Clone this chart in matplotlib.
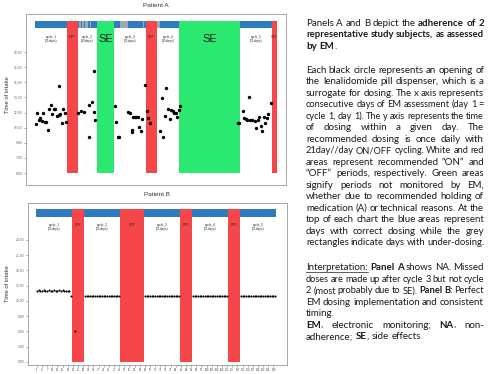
import matplotlib
matplotlib.use("Agg")
import matplotlib.pyplot as plt
from matplotlib.patches import Rectangle
from matplotlib.lines import Line2D

# ---------------- data ----------------
# Patient A: day of assessment and time of opening (hours)
a_days = [1, 2, 3, 4, 5, 6, 7, 8, 9, 10, 11, 12, 13, 14, 15, 16, 16, 17, 18, 19, 20, 21,
          29, 31, 33, 36, 36, 38, 39, 39, 40,
          53, 54, 55, 56, 62, 63, 64, 64, 65, 66, 67, 68, 69, 70, 71, 73, 74, 75, 76,
          83, 84, 85, 86, 87, 88, 89, 90, 91, 92, 93, 94, 95, 96,
          134, 135, 137, 138, 139, 140, 141, 142, 143, 145, 146, 147, 148, 149, 150, 151,
          152, 153, 154, 156]
a_times = [10.89, 11.98, 11.26, 11.43, 11.19, 11.98, 11.03, 11.09, 10.27, 12.32, 12.77,
           11.82, 12.32, 12.32, 11.65, 14.60, 11.75, 11.85, 10.93, 12.35, 11.92, 11.06,
           11.92, 12.18, 12.02, 9.57, 12.77, 13.04, 12.08, 16.12, 11.23,
           12.65, 11.09, 9.54, 9.54, 12.02, 11.92, 10.04, 10.27, 11.59, 11.52, 11.59, 11.59,
           10.59, 10.20, 11.33, 14.73, 12.18, 11.43, 10.93,
           10.14, 13.44, 9.60, 11.68, 14.40, 12.32, 11.33, 12.25, 12.15, 11.92, 11.92, 11.59,
           12.25, 12.65,
           10.93, 10.93, 12.15, 11.43, 11.36, 11.26, 13.54, 11.26, 11.26, 11.16, 10.43, 11.26,
           11.52, 10.66, 10.14, 11.52, 10.93, 11.43, 11.82, 12.97]
a_cycles = [(1, 21, "cycle_1\n(21days)"), (29, 41, "cycle_2\n(13days)"),
            (53, 73, "cycle_3\n(21days)"), (81, 95, "cycle_4\n(15days)"),
            (136, 156, "cycle_5\n(21days)")]
a_off = [(22, 28), (74, 80), (157, 159)]
a_se = [(42, 52), (96, 135)]
a_grey = [30, 32, 34, 35, 37, 57, 58, 59, 60, 61, 72, 81, 82]
a_yticks = [6, 7.5, 9, 10.5, 12, 13.5, 15, 16.5, 18]
a_ylabels = ["6:00", "7:30", "9:00", "10:30", "12:00", "13:30", "15:00", "16:30", "18:00"]

# Patient B
b_days = [1, 2, 3, 4, 5, 6, 7, 8, 9, 10, 11, 12, 13, 14, 15, 16, 17, 18, 19, 20, 21, 23,
          29, 30, 31, 32, 33, 34, 35, 36, 37, 38, 39, 40, 41, 42, 43, 44, 45, 46, 47, 48, 49,
          64, 65, 66, 67, 68, 69, 70, 71, 72, 73, 74, 75, 76, 77, 78, 79, 80, 81, 82, 83, 84,
          92, 93, 94, 95, 96, 97, 98, 99, 100, 101, 102, 103, 104, 105, 106, 107, 108, 109,
          110, 111, 112,
          120, 121, 122, 123, 124, 125, 126, 127, 128, 129, 130, 131, 132, 133, 134, 135,
          136, 137, 138, 139, 140]
b_times = [14.0, 14.1, 13.9, 14.0, 14.2, 14.0, 13.9, 14.1, 14.0, 14.0, 14.1, 13.9, 14.0,
           14.2, 14.0, 14.1, 14.0, 13.9, 14.0, 13.9, 13.0, 6.1,
           13.0, 13.0, 13.05, 13.0, 12.95, 13.0, 13.0, 13.05, 13.0, 13.0, 12.95, 13.0, 13.0,
           13.05, 13.0, 13.0, 13.0, 12.95, 13.0, 13.0, 13.0,
           13.0, 13.05, 13.0, 13.0, 13.0, 12.95, 13.0, 13.0, 13.05, 13.0, 13.0, 13.0, 12.95,
           13.0, 13.0, 13.0, 13.05, 13.0, 13.0, 13.0, 13.0,
           13.0, 13.0, 13.0, 13.05, 13.0, 13.0, 12.95, 13.0, 13.0, 13.0, 13.0, 13.05, 13.0,
           13.0, 13.0, 12.95, 13.0, 13.0, 13.0, 13.0, 13.0,
           13.0, 13.0, 13.0, 13.0, 13.05, 13.0, 13.0, 13.0, 12.95, 13.0, 13.0, 13.0, 13.0,
           13.05, 13.0, 13.0, 13.0, 13.0, 12.95, 13.0, 13.0]
b_cycles = [(1, 21, "cycle_1\n(21days)"), (29, 49, "cycle_2\n(21days)"),
            (64, 84, "cycle_3\n(21days)"), (92, 112, "cycle_4\n(21days)"),
            (120, 140, "cycle_5\n(21days)")]
b_off = [(22, 28), (50, 63), (85, 91), (113, 119)]
b_yticks = [0, 3, 6, 9, 12, 15, 18, 21, 24]
b_ylabels = ["0:00", "3:00", "6:00", "9:00", "12:00", "15:00", "18:00", "21:00", "24:00"]
b_xticks = [1, 4, 7, 10, 13, 16, 19, 22, 25, 28, 31, 34, 37, 40, 43, 46, 49, 52, 55, 58,
            61, 64, 67, 70, 73, 76, 79, 82, 85, 88, 91, 94, 97, 100, 103, 106, 109, 112,
            115, 118, 121, 124, 127, 130, 133, 136, 139]

BLUE = "#2f7bbf"
GREY = "#9fa9b4"
RED = "#f5474a"
GREEN = "#2ae870"
CFONT = "Liberation Sans"

W, H = 499, 374
fig = plt.figure(figsize=(W / 100, H / 100), dpi=100)


def setup(ax, xlim, ylim, yticks, ylabels, title):
    ax.set_xlim(*xlim)
    ax.set_ylim(*ylim)
    ax.set_yticks(yticks)
    ax.set_yticklabels(ylabels, fontsize=2.4, family=CFONT, color="#444")
    ax.tick_params(length=1.6, width=0.4, colors="#666", pad=1.2)
    for s in ax.spines.values():
        s.set_color("#999999")
        s.set_linewidth(0.6)
    ax.set_title(title, fontsize=4.6, family=CFONT, color="#333", pad=5)


def panel(ax, total, bar_lo, bar_hi, bottom, cycles, off, se, grey, lab_y, off_y):
    ax.add_patch(Rectangle((0, bar_lo), total, bar_hi - bar_lo, color=BLUE, lw=0, zorder=1))
    for d in grey:
        ax.add_patch(Rectangle((d - 1, bar_lo), 1, bar_hi - bar_lo, color=GREY, lw=0, zorder=1.1))
    for s, e in off:
        ax.add_patch(Rectangle((s - 1, bottom), e - s + 1, bar_hi - bottom, color=RED, lw=0, zorder=2))
        ax.text((s - 1 + e) / 2, off_y, "OFF", fontsize=2.4, family=CFONT, ha="center",
                va="center", color="#222", zorder=4)
    for s, e in se:
        ax.add_patch(Rectangle((s - 1, bottom), e - s + 1, bar_hi - bottom, color=GREEN, lw=0, zorder=2))
        ax.text((s - 1 + e) / 2, lab_y, "SE", fontsize=8, family=CFONT, ha="center",
                va="center", color="#222", zorder=4)
    for s, e, lab in cycles:
        ax.text((s - 1 + e) / 2, lab_y, lab, fontsize=2.3, family=CFONT, ha="center",
                va="center", color="#333", linespacing=1.1, zorder=4)


# ---- Patient A ----
axA = fig.add_axes([26 / W, 1 - 185 / H, 260 / W, 171 / H])
setup(axA, (-5.9, 165.1), (4.81, 21.77), a_yticks, a_ylabels, "Patient A")
axA.set_xticks([])
panel(axA, 159, 20.38, 21.07, 6.0, a_cycles, a_off, a_se, a_grey, 19.3, 19.5)
axA.scatter([d - 0.5 for d in a_days], a_times, s=6, color="black", lw=0, zorder=3)

# ---- Patient B ----
axB = fig.add_axes([28 / W, 1 - 365 / H, 259 / W, 162 / H])
setup(axB, (-4.7, 146.4), (-0.6, 31.28), b_yticks, b_ylabels, "Patient B")
axB.set_xticks([d - 0.5 for d in b_xticks])
axB.set_xticklabels([str(d) for d in b_xticks], fontsize=1.9, family=CFONT, color="#444")
axB.tick_params(axis="x", length=1.2, pad=0.8)
panel(axB, 140, 28.52, 30.1, 0.0, b_cycles, b_off, [], [], 26.6, 26.9)
axB.scatter([d - 0.5 for d in b_days], b_times, s=2.2, color="black", lw=0, zorder=3)

for yc in (95, 284):
    fig.text(8 / W, 1 - yc / H, "Time of intake", rotation=90, fontsize=4.2, family=CFONT,
             ha="center", va="center", color="#333")

# ---- justified text on the right ----
par1 = ["Panels A and B depict the *adherence *of *2",
        "*representative *study *subjects, *as *assessed",
        "*by *EM|."]
par2 = ["Each black circle represents an opening of",
        "the lenalidomide pill dispenser, which is a",
        "surrogate for dosing. The x axis represents",
        "consecutive days of EM assessment (day 1 =",
        "cycle 1, day 1). The y axis represents the time",
        "of dosing within a given day. The",
        "recommended dosing is once daily with",
        "21day//day ON/OFF cycling. White and red",
        "areas represent recommended \u201cON\u201d and",
        "\u201cOFF\u201d periods, respectively. Green areas",
        "signify periods not monitored by EM,",
        "whether due to recommended holding of",
        "medication (A) or technical reasons. At the",
        "top of each chart the blue areas represent",
        "days with correct dosing while the grey",
        "rectangles indicate days with under-dosing."]
par3 = ["_Interpretation: *Panel *A shows NA. Missed",
        "doses are made up after cycle 3 but not cycle",
        "2 (most probably due to SE). *Panel *B: Perfect",
        "EM dosing implementation and consistent",
        "timing.",
        "*EM|, electronic monitoring; *NA|, non-",
        "adherence; *SE|, side effects"]
ragged = ["*by *EM|.", "timing.", "adherence; *SE|, side effects"]

FAM = "Lato"
FS = 7.0
X0, X1 = 306, 484
fig.canvas.draw()
rend = fig.canvas.get_renderer()


def measure(s, weight, fs):
    t = fig.text(0, 0, s, fontsize=fs, fontweight=weight, family=FAM)
    w = t.get_window_extent(rend).width
    t.remove()
    return w


def parse(line):
    words = []
    for w in line.split(" "):
        segs = []
        for s in w.split("|"):
            if s.startswith("*"):
                segs.append((s[1:], "bold", False))
            elif s.startswith("_"):
                segs.append((s[1:], "normal", True))
            else:
                segs.append((s, "normal", False))
        words.append(segs)
    return words


def draw_par(lines, y_first):
    for i, line in enumerate(lines):
        y = y_first + 11.5 * i + 2.9
        words = parse(line)
        fs = FS
        # squeeze a line that would not fit at the common size
        while True:
            widths = [[measure(s, wt, fs) for s, wt, u in w] for w in words]
            total = sum(sum(ws) for ws in widths)
            if total + 1.8 * (len(words) - 1) <= X1 - X0 or fs < 5.5:
                break
            fs -= 0.1
        justify = line not in ragged and len(words) > 1
        space = measure("a a", "normal", fs) - measure("aa", "normal", fs)
        gap = (X1 - X0 - total) / (len(words) - 1) if justify else space
        x = X0
        for w, ws in zip(words, widths):
            for (s, wt, u), sw in zip(w, ws):
                fig.text(x / W, 1 - y / H, s, fontsize=fs, fontweight=wt, family=FAM,
                         va="baseline", color="#1a1a1a")
                if u:
                    fig.add_artist(Line2D([x / W, (x + sw) / W], [1 - (y + 1.3) / H] * 2,
                                          transform=fig.transFigure, lw=0.5, color="#1a1a1a"))
                x += sw
            x += gap


draw_par(par1, 23)
draw_par(par2, 70)
draw_par(par3, 267.3)

fig.savefig("out.png", dpi=100)
